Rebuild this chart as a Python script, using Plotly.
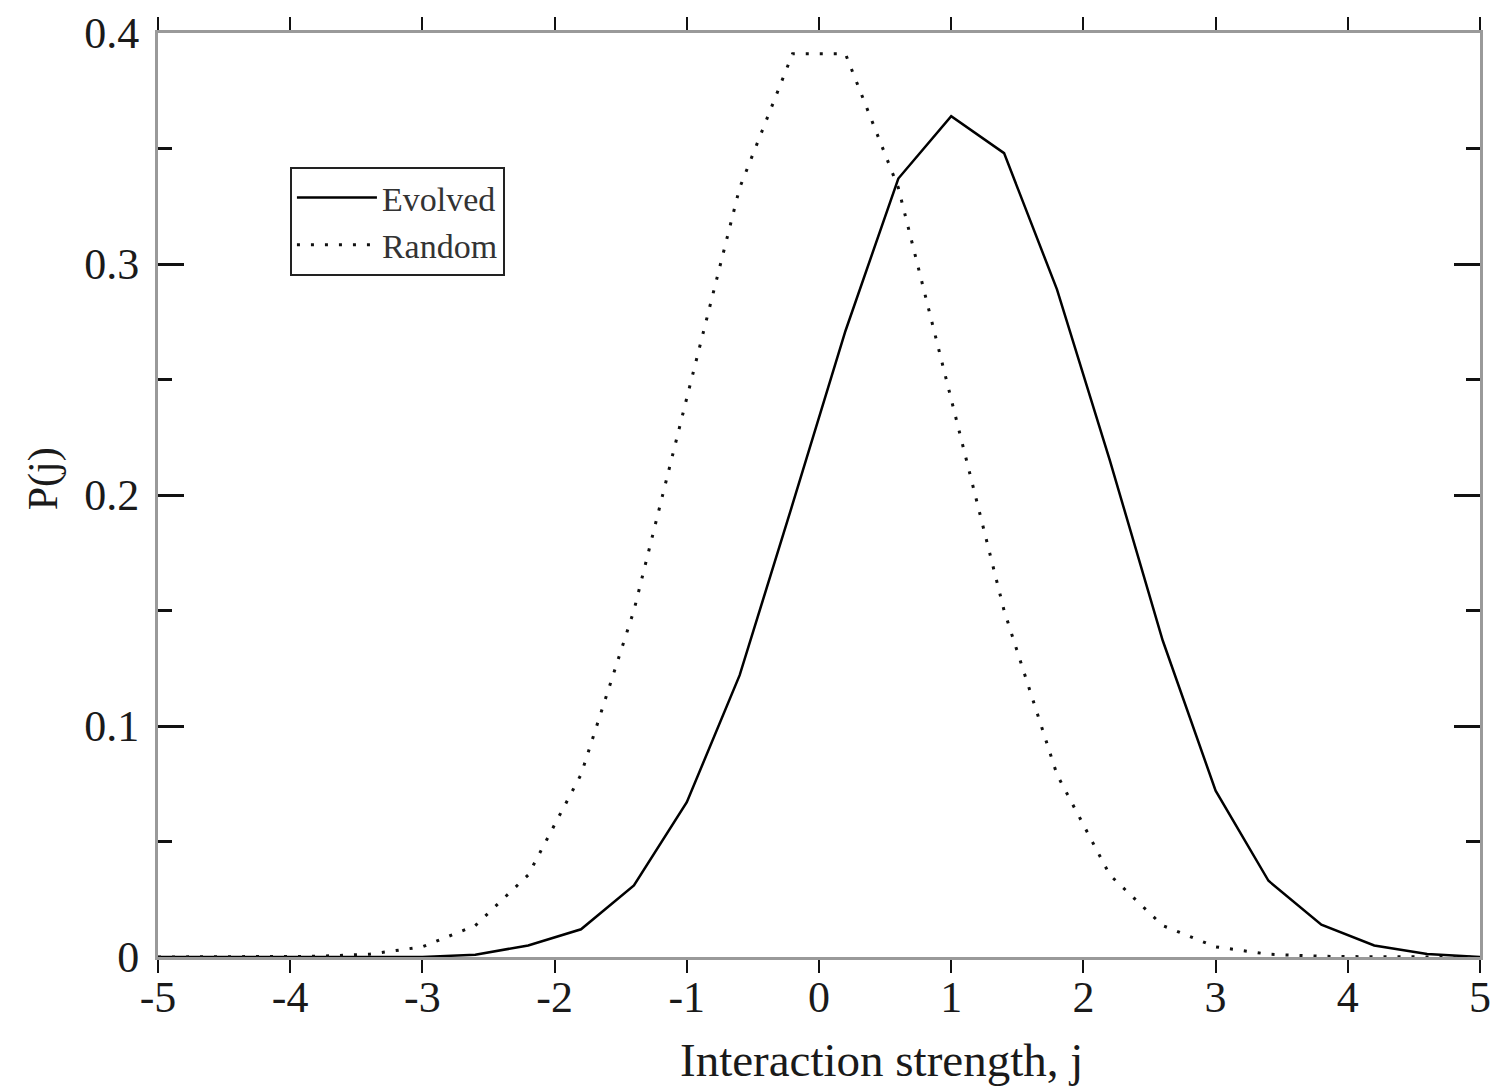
import plotly.graph_objects as go

# Interaction strength grid (sample points)
j_vals = [-5.0, -4.6, -4.2, -3.8, -3.4, -3.0, -2.6, -2.2, -1.8, -1.4, -1.0, -0.6, -0.2,
          0.2, 0.6, 1.0, 1.4, 1.8, 2.2, 2.6, 3.0, 3.4, 3.8, 4.2, 4.6, 5.0]

evolved = [0.0, 0.0, 0.0, 0.0, 0.0, 0.0, 0.001, 0.005, 0.012, 0.031, 0.067, 0.122, 0.196,
           0.271, 0.337, 0.364, 0.348, 0.289, 0.215, 0.137, 0.072, 0.033, 0.014, 0.005, 0.0013, 0.0]

random_ = [0.0, 0.0, 0.0001, 0.0003, 0.0012, 0.0044, 0.0136, 0.0355, 0.079, 0.150, 0.242, 0.333, 0.391,
           0.391, 0.333, 0.242, 0.150, 0.079, 0.0355, 0.0136, 0.0044, 0.0012, 0.0003, 0.0001, 0.0, 0.0]

x_tick_vals = [-5, -4, -3, -2, -1, 0, 1, 2, 3, 4, 5]
x_tick_text = ["-5", "-4", "-3", "-2", "-1", "0", "1", "2", "3", "4", "5"]

FONT = "Liberation Serif"
TXT = "#1a1a1a"
FRAME = "#9a9a9a"
TICKC = "#111111"

fig = go.Figure()
fig.add_trace(go.Scatter(x=j_vals, y=evolved, mode="lines", name="Evolved",
                         line=dict(color="#000000", width=2.5)))
fig.add_trace(go.Scatter(x=j_vals, y=random_, mode="lines", name="Random",
                         line=dict(color="#111111", width=3, dash="3px,11px")))

fig.update_layout(
    width=1496, height=1079,
    margin=dict(l=150, r=24, t=25, b=130, autoexpand=False),
    paper_bgcolor="white", plot_bgcolor="white",
    font=dict(family=FONT, color=TXT),
    showlegend=True,
    legend=dict(x=0.0998, y=0.855, xanchor="left", yanchor="top",
                bgcolor="white", bordercolor="#222222", borderwidth=2,
                font=dict(family=FONT, size=34, color="#333333"),
                itemwidth=80, tracegroupgap=0),
    xaxis=dict(range=[-5, 5], showline=True, linecolor=FRAME, linewidth=3,
               mirror="ticks", ticks="outside", ticklen=13, tickwidth=2, tickcolor=TICKC,
               tickvals=x_tick_vals, ticktext=x_tick_text, automargin=False,
               showgrid=False, zeroline=False, ticklabelstandoff=-14,
               tickfont=dict(family=FONT, size=44, color=TXT)),
    xaxis2=dict(range=[-5, 5], overlaying="x", anchor="y", side="bottom",
                showline=False, mirror="ticks", ticks="inside", ticklen=13, tickwidth=2,
                tickcolor=TICKC, tickvals=x_tick_vals, showticklabels=False,
                automargin=False, showgrid=False, zeroline=False),
    yaxis=dict(range=[0, 0.4], showline=True, linecolor=FRAME, linewidth=3,
               mirror="ticks", ticks="inside", ticklen=26, tickwidth=2.5, tickcolor=TICKC,
               tick0=0, dtick=0.1, showgrid=False, zeroline=False, automargin=False,
               ticklabelstandoff=7,
               tickfont=dict(family=FONT, size=44, color=TXT),
               minor=dict(ticks="inside", ticklen=14, tickwidth=2.5, tickcolor=TICKC,
                          tick0=0, dtick=0.05, showgrid=False)),
    annotations=[
        dict(text="Interaction strength, j", xref="paper", yref="paper",
             x=0.547, y=-0.111, xanchor="center", yanchor="middle", showarrow=False,
             font=dict(family=FONT, size=47, color=TXT)),
        dict(text="P(j)", xref="paper", yref="paper",
             x=-0.087, y=0.518, xanchor="center", yanchor="middle", showarrow=False,
             textangle=-90, font=dict(family=FONT, size=42, color=TXT)),
    ],
)

fig.write_html("out.html")
